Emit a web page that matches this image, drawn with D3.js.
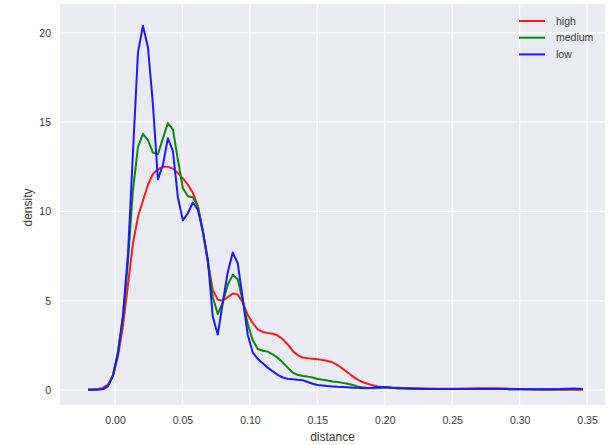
<!DOCTYPE html>
<html>
<head>
<meta charset="utf-8">
<script src="https://cdn.jsdelivr.net/npm/d3@7"></script>
<style>
  html, body { margin: 0; padding: 0; background: #ffffff; }
  svg { display: block; font-family: "Liberation Sans", Arial, sans-serif; }
</style>
</head>
<body>
<svg id="chart" width="613" height="445"></svg>
<script>
// Evaluation points of the density estimates (distance)
const distance = [
  -0.0200, -0.0163, -0.0126, -0.0089, -0.0052, -0.0015, 0.0022, 0.0059, 0.0096, 0.0133,
  0.0170, 0.0207, 0.0244, 0.0281, 0.0318, 0.0355, 0.0392, 0.0429, 0.0466, 0.0503,
  0.0540, 0.0577, 0.0614, 0.0651, 0.0688, 0.0725, 0.0762, 0.0799, 0.0836, 0.0873,
  0.0910, 0.0947, 0.0984, 0.1021, 0.1058, 0.1095, 0.1132, 0.1169, 0.1206, 0.1243,
  0.1280, 0.1317, 0.1354, 0.1391, 0.1428, 0.1465, 0.1502, 0.1539, 0.1576, 0.1613,
  0.1650, 0.1687, 0.1724, 0.1761, 0.1798, 0.1835, 0.1872, 0.1909, 0.1946, 0.1983,
  0.2020, 0.2057, 0.2094, 0.22, 0.23, 0.24, 0.25, 0.26, 0.27, 0.28,
  0.29, 0.30, 0.31, 0.32, 0.33, 0.34, 0.347
];

const highDensity = [
  0.03, 0.04, 0.06, 0.12, 0.3, 0.8, 1.9, 3.6, 5.9, 8.2,
  9.7, 10.6, 11.5, 12.1, 12.35, 12.5, 12.5, 12.4, 12.15, 11.85,
  11.5, 11.05, 10.3, 8.9, 7.2, 5.6, 5.05, 5.0, 5.2, 5.4,
  5.35, 4.9, 4.2, 3.75, 3.4, 3.25, 3.2, 3.15, 3.05, 2.85,
  2.55, 2.2, 1.95, 1.82, 1.78, 1.75, 1.72, 1.68, 1.62, 1.55,
  1.4, 1.2, 0.98, 0.78, 0.58, 0.45, 0.35, 0.27, 0.2, 0.17,
  0.15, 0.13, 0.12, 0.1, 0.08, 0.07, 0.07, 0.08, 0.1, 0.1,
  0.08, 0.05, 0.03, 0.02, 0.02, 0.03, 0.02
];

const mediumDensity = [
  0.02, 0.02, 0.03, 0.06, 0.25, 0.85, 2.1, 4.1, 7.2, 11.2,
  13.6, 14.35, 14.0, 13.3, 13.2, 14.1, 14.95, 14.6, 12.9, 11.3,
  10.85, 10.8, 10.3, 8.9, 7.2, 5.2, 4.25, 4.9, 5.9, 6.45,
  6.2, 5.0, 3.7, 2.8, 2.3, 2.2, 2.15, 2.0, 1.8, 1.55,
  1.25, 0.98, 0.85, 0.78, 0.75, 0.7, 0.62, 0.57, 0.53, 0.48,
  0.45, 0.4, 0.35, 0.28, 0.2, 0.15, 0.12, 0.1, 0.1, 0.12,
  0.12, 0.11, 0.1, 0.08, 0.06, 0.05, 0.05, 0.05, 0.05, 0.06,
  0.05, 0.04, 0.04, 0.04, 0.04, 0.06, 0.04
];

const lowDensity = [
  0.02, 0.02, 0.03, 0.05, 0.2, 0.8, 2.1, 4.2, 7.6, 13.3,
  18.9, 20.4, 19.2, 16.0, 11.8, 12.6, 14.1, 13.4, 10.8, 9.5,
  9.9, 10.5, 10.1, 8.9, 7.3, 4.1, 3.1, 4.9, 6.6, 7.7,
  7.1, 5.1, 3.1, 2.1, 1.75, 1.5, 1.25, 1.05, 0.85, 0.7,
  0.63, 0.6, 0.57, 0.55, 0.45, 0.35, 0.28, 0.25, 0.22, 0.2,
  0.18, 0.17, 0.15, 0.13, 0.12, 0.1, 0.1, 0.12, 0.15, 0.17,
  0.15, 0.12, 0.1, 0.07, 0.05, 0.05, 0.05, 0.05, 0.05, 0.06,
  0.05, 0.04, 0.04, 0.04, 0.05, 0.09, 0.05
];

const seriesNames = ["high", "medium", "low"];
const seriesColors = ["#ff1a1a", "#0a8a0a", "#1a1aff"];
const xTicks = [0.00, 0.05, 0.10, 0.15, 0.20, 0.25, 0.30, 0.35];
const yTicks = [0, 5, 10, 15, 20];

const seriesValues = [highDensity, mediumDensity, lowDensity];

const svg = d3.select("#chart");
const plot = { left: 60, right: 605, top: 4, bottom: 405 };

const x = d3.scaleLinear().domain([-0.0408, 0.3633]).range([plot.left, plot.right]);
const y = d3.scaleLinear().domain([-0.84, 21.62]).range([plot.bottom, plot.top]);

// Plot background
svg.append("rect")
  .attr("x", plot.left).attr("y", plot.top)
  .attr("width", plot.right - plot.left).attr("height", plot.bottom - plot.top)
  .attr("fill", "#eaeaf2");

// White grid lines
const grid = svg.append("g").attr("stroke", "#ffffff").attr("stroke-width", 1.2);
grid.selectAll("line.vx").data(xTicks).join("line")
  .attr("x1", d => x(d)).attr("x2", d => x(d))
  .attr("y1", plot.top).attr("y2", plot.bottom);
grid.selectAll("line.hy").data(yTicks).join("line")
  .attr("x1", plot.left).attr("x2", plot.right)
  .attr("y1", d => y(d)).attr("y2", d => y(d));

// Axes (labels only, no ticks or domain lines)
const xAxis = d3.axisBottom(x).tickValues(xTicks).tickFormat(d3.format(".2f")).tickSize(0).tickPadding(12);
const gx = svg.append("g").attr("transform", `translate(0,${plot.bottom})`).call(xAxis);
gx.select(".domain").remove();
gx.selectAll("text").attr("fill", "#3a3a3a").attr("font-size", 10.5)
  .attr("font-family", "'Liberation Sans', Arial, sans-serif");

const yAxis = d3.axisLeft(y).tickValues(yTicks).tickFormat(d3.format("d")).tickSize(0).tickPadding(9);
const gy = svg.append("g").attr("transform", `translate(${plot.left},0)`).call(yAxis);
gy.select(".domain").remove();
gy.selectAll("text").attr("fill", "#3a3a3a").attr("font-size", 10.5)
  .attr("font-family", "'Liberation Sans', Arial, sans-serif");

// Axis titles
svg.append("text")
  .attr("x", (plot.left + plot.right) / 2).attr("y", 441)
  .attr("text-anchor", "middle").attr("font-size", 12).attr("fill", "#3a3a3a")
  .text("distance");
svg.append("text")
  .attr("transform", `translate(32,${(plot.top + plot.bottom) / 2 + 3}) rotate(-90)`)
  .attr("text-anchor", "middle").attr("font-size", 12).attr("fill", "#3a3a3a")
  .text("density");

// Density curves
const line = d3.line()
  .x((d, i) => x(distance[i]))
  .y(d => y(d));

svg.append("clipPath").attr("id", "plot-clip")
  .append("rect")
  .attr("x", plot.left).attr("y", plot.top)
  .attr("width", plot.right - plot.left).attr("height", plot.bottom - plot.top);

svg.append("g").attr("clip-path", "url(#plot-clip)")
  .selectAll("path").data(seriesValues).join("path")
  .attr("d", d => line(d))
  .attr("fill", "none")
  .attr("stroke", (d, i) => seriesColors[i])
  .attr("stroke-width", 2)
  .attr("stroke-linejoin", "round");

// Legend
const legend = svg.append("g").attr("transform", "translate(519,21)");
const item = legend.selectAll("g").data(seriesNames).join("g")
  .attr("transform", (d, i) => `translate(0,${i * 16.7})`);
item.append("line")
  .attr("x1", 0).attr("x2", 26).attr("y1", 0).attr("y2", 0)
  .attr("stroke", (d, i) => seriesColors[i]).attr("stroke-width", 2);
item.append("text")
  .attr("x", 37).attr("y", 3.5)
  .attr("font-size", 10.5).attr("fill", "#3a3a3a")
  .text(d => d);
</script>
</body>
</html>
